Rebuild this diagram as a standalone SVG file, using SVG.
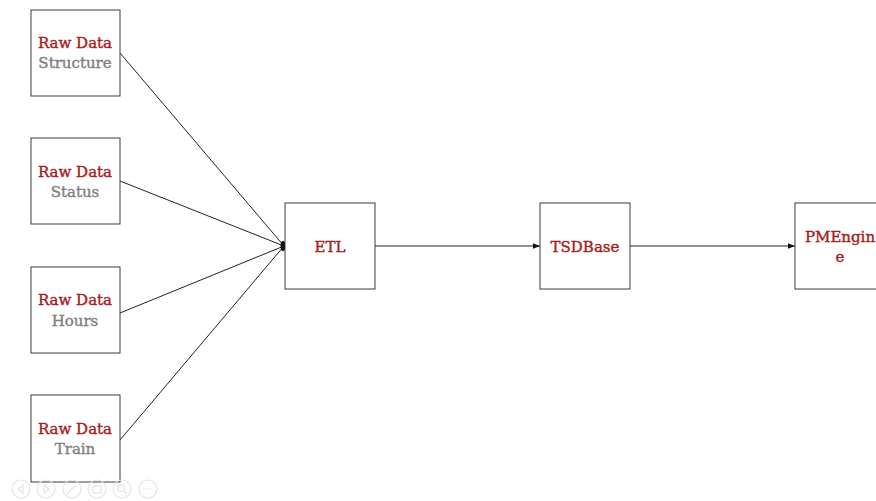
<svg xmlns="http://www.w3.org/2000/svg" width="876" height="501" viewBox="0 0 876 501">
<defs>
<style>
.box{fill:#fff;stroke:#3a3a3a;stroke-width:1}
.t{font-family:"DejaVu Serif","Liberation Serif",serif;font-size:15px;text-anchor:middle;stroke-width:0.4}
.r{fill:#a51c1c;stroke:#a51c1c}
.g{fill:#808080;stroke:#808080}
.c{stroke:#222;stroke-width:1;fill:none}
.ic{fill:none;stroke:#e4e4e4;stroke-width:1.2}
</style>
<marker id="arr" viewBox="0 0 10 10" refX="10" refY="5" markerWidth="7" markerHeight="7" orient="auto" markerUnits="userSpaceOnUse"><path d="M0,1 L10,5 L0,9 Z" fill="#111"/></marker>
</defs>
<rect width="876" height="501" fill="#fff"/>
<g id="connectors">
<line class="c" x1="120" y1="53" x2="284" y2="246"/>
<line class="c" x1="120" y1="181" x2="284" y2="246"/>
<line class="c" x1="120" y1="313" x2="284" y2="246"/>
<line class="c" x1="120" y1="440" x2="284" y2="246"/>
<ellipse cx="283" cy="246" rx="2.5" ry="5" fill="#111"/>
<line class="c" x1="375" y1="246" x2="540" y2="246" marker-end="url(#arr)"/>
<line class="c" x1="630" y1="246" x2="795" y2="246" marker-end="url(#arr)"/>
</g>
<g id="structure"><rect class="box" x="31" y="10" width="89" height="86"/><text class="t r" x="75" y="48">Raw Data</text><text class="t g" x="75" y="68">Structure</text></g>
<g id="status"><rect class="box" x="31" y="138" width="89" height="86"/><text class="t r" x="75" y="177">Raw Data</text><text class="t g" x="75" y="197">Status</text></g>
<g id="hours"><rect class="box" x="31" y="267" width="89" height="86"/><text class="t r" x="75" y="305">Raw Data</text><text class="t g" x="75" y="326">Hours</text></g>
<g id="train"><rect class="box" x="31" y="395" width="89" height="87"/><text class="t r" x="75" y="434">Raw Data</text><text class="t g" x="75" y="454">Train</text></g>
<g id="etl"><rect class="box" x="285" y="203" width="90" height="86"/><text class="t r" x="330" y="252">ETL</text></g>
<g id="tsdbase"><rect class="box" x="540" y="203" width="90" height="86"/><text class="t r" x="585" y="252">TSDBase</text></g>
<g id="pmengine"><rect class="box" x="795" y="203" width="90" height="86"/><text class="t r" x="840" y="242">PMEngin</text><text class="t r" x="840" y="262">e</text></g>
<g id="toolbar">
<circle class="ic" cx="21" cy="489" r="9"/><path class="ic" d="M23,485 L18,489 L23,493 Z"/>
<circle class="ic" cx="46" cy="489" r="9"/><path class="ic" d="M44,485 L49,489 L44,493 Z"/>
<circle class="ic" cx="72" cy="489" r="9"/><path class="ic" d="M67,494 L76,485"/>
<circle class="ic" cx="97" cy="489" r="9"/><rect class="ic" x="93" y="486" width="8" height="7"/>
<circle class="ic" cx="122" cy="489" r="9"/><circle class="ic" cx="121" cy="488" r="3.5"/><path class="ic" d="M124,491 L127,494"/>
<circle class="ic" cx="148" cy="489" r="9"/><path class="ic" d="M143,489 h10" stroke-dasharray="2,1.5"/>
</g>
</svg>
